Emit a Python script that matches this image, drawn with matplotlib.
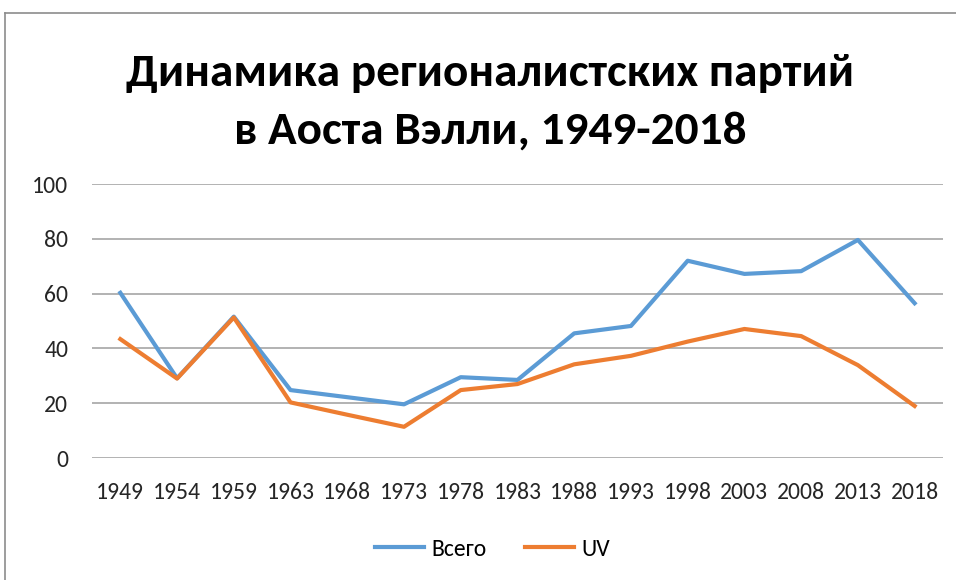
import matplotlib
matplotlib.use('Agg')
import matplotlib.pyplot as plt
from matplotlib import font_manager

years = ['1949', '1954', '1959', '1963', '1968', '1973', '1978', '1983',
         '1988', '1993', '1998', '2003', '2008', '2013', '2018']
total = [60.3, 29.1, 51.6, 24.8, 22.2, 19.6, 29.5, 28.5,
         45.5, 48.2, 72.0, 67.2, 68.2, 79.6, 56.5]
uv = [43.4, 29.0, 51.3, 20.3, 15.8, 11.4, 24.8, 27.0,
      34.2, 37.3, 42.5, 47.1, 44.5, 33.9, 19.0]
title_lines = ['Динамика регионалистских партий', 'в Аоста Вэлли, 1949-2018']

names = {f.name for f in font_manager.fontManager.ttflist}
family = [f for f in ['Carlito', 'Lato', 'Open Sans'] if f in names] + ['DejaVu Sans']
plt.rcParams['font.family'] = family

fig = plt.figure(figsize=(9.56, 5.8), dpi=100)
ax = fig.add_axes([0.0962, 0.2103, 0.8902, 0.4724])

x = range(len(years))
ax.plot(x, total, color='#5b9bd5', lw=3, label='Всего')
ax.plot(x, uv, color='#ed7d31', lw=3, label='UV')

ax.set_xlim(-0.5, len(years) - 0.5)
ax.set_ylim(0, 100)
ax.set_yticks(range(0, 101, 20))
ax.set_xticks(list(x))
ax.set_xticklabels(years)
ax.grid(axis='y', color='#a6a6a6', lw=1.2)
ax.set_axisbelow(True)
for s in ax.spines.values():
    s.set_visible(False)
ax.tick_params(length=0, labelsize=17, colors='#262626')
ax.tick_params(axis='x', pad=17)
ax.tick_params(axis='y', pad=17)

for txt, yb in zip(title_lines, [0.852, 0.753]):
    fig.text(0.5126, yb, txt, ha='center', va='baseline', fontsize=34,
             fontweight='bold', color='black')

fig.legend(loc='center', bbox_to_anchor=(0.515, 0.053), ncol=2, frameon=False,
           fontsize=17, handlelength=2.1, columnspacing=1.6, handletextpad=0.3)

# chart frame: only left and top edges show in the crop
fig.add_artist(plt.Line2D([0.005, 0.005], [0.0, 0.978], transform=fig.transFigure,
                          color='#8c8c8c', lw=1.2))
fig.add_artist(plt.Line2D([0.005, 1.0], [0.978, 0.978], transform=fig.transFigure,
                          color='#8c8c8c', lw=1.2))

fig.savefig('out.png', dpi=100)
